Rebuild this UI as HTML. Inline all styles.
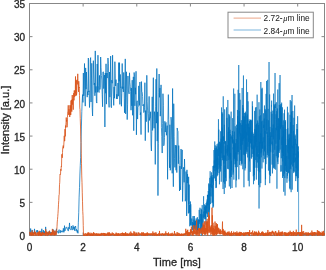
<!DOCTYPE html>
<html><head><meta charset="utf-8"><style>
html,body{margin:0;padding:0;background:#fff;width:326px;height:270px;overflow:hidden}
svg{display:block}
text{font-family:"Liberation Sans",sans-serif;fill:#262626;stroke:#262626;stroke-width:0.3px}
svg{will-change:transform}
.lg text{stroke-width:0.05px}
</style></head><body>
<svg width="326" height="270" viewBox="0 0 326 270">
<rect width="326" height="270" fill="#fff"/>
<g fill="none" stroke="#262626" stroke-width="1" opacity="0.55">
<rect x="29.5" y="3.5" width="295.0" height="232.0"/>
<path d="M29.50 235.5V232.5M29.50 3.5V6.5M83.14 235.5V232.5M83.14 3.5V6.5M136.77 235.5V232.5M136.77 3.5V6.5M190.41 235.5V232.5M190.41 3.5V6.5M244.05 235.5V232.5M244.05 3.5V6.5M297.68 235.5V232.5M297.68 3.5V6.5M29.5 235.50H32.5M324.5 235.50H321.5M29.5 202.36H32.5M324.5 202.36H321.5M29.5 169.21H32.5M324.5 169.21H321.5M29.5 136.07H32.5M324.5 136.07H321.5M29.5 102.93H32.5M324.5 102.93H321.5M29.5 69.79H32.5M324.5 69.79H321.5M29.5 36.64H32.5M324.5 36.64H321.5M29.5 3.50H32.5M324.5 3.50H321.5"/>
</g>
<g fill="none" stroke-linejoin="round">
<polyline points="29.50,233.12 29.88,232.81 30.27,234.60 30.65,228.53 31.04,233.06 31.42,233.08 31.81,232.53 32.19,229.95 32.58,233.00 32.96,234.21 33.35,232.70 33.73,232.38 34.12,233.20 34.50,228.89 34.88,232.64 35.27,232.97 35.65,234.10 36.04,232.13 36.42,231.68 36.81,230.26 37.19,232.97 37.58,230.26 37.96,231.73 38.35,231.90 38.73,232.66 39.12,231.77 39.50,232.54 39.88,234.39 40.27,231.17 40.65,231.08 41.04,232.24 41.42,233.06 41.81,228.79 42.19,234.64 42.58,233.14 42.96,232.72 43.35,230.06 43.73,233.55 44.12,231.61 44.50,233.85 44.88,231.19 45.27,233.53 45.65,226.88 46.04,232.14 46.42,234.47 46.81,231.91 47.19,233.83 47.58,232.83 47.96,234.05 48.35,234.55 48.73,231.79 49.12,232.96 49.50,230.69 49.88,233.76 50.27,232.46 50.65,233.63 51.04,232.11 51.42,233.38 51.81,232.32 52.19,232.37 52.58,232.01 52.96,229.11 53.35,232.12 53.73,232.92 54.12,234.03 54.50,231.13 54.88,231.32 55.27,231.77 55.65,233.88 56.04,233.84 56.42,228.79 56.81,232.51 57.19,231.38 57.58,231.52 57.96,232.18 58.35,233.34 58.73,230.33 59.12,229.63 59.50,231.62 59.88,232.86 60.27,232.93 60.65,230.28 61.04,232.31 61.42,231.05 61.81,231.60 62.19,230.69 62.58,231.46 62.96,232.34 63.35,228.30 63.73,231.94 64.12,232.26 64.50,225.66 64.88,231.00 65.27,229.21 65.65,229.15 66.04,227.20 66.42,227.30 66.81,226.91 67.19,229.18 67.58,228.89 67.96,230.53 68.35,231.08 68.73,227.28 69.12,228.79 69.50,222.91 69.88,229.16 70.27,229.25 70.65,229.77 71.04,229.64 71.42,225.98 71.81,228.52 72.19,230.14 72.58,228.27 72.96,225.42 73.35,226.15 73.73,229.43 74.12,227.03 74.50,230.60 74.88,226.64 75.27,227.25 75.65,226.09 76.04,231.09 76.42,229.22 76.81,230.12 77.19,232.41 77.58,230.51 77.96,233.31 78.35,222.20 78.73,212.72 79.12,197.13 79.50,187.63 79.88,175.00 80.27,165.42 80.65,157.68 81.04,142.45 81.42,126.05 81.81,111.67 82.19,100.92 82.58,94.58 82.96,102.40 83.35,73.02 83.73,95.92 84.12,88.55 84.50,63.50 84.88,96.46 85.27,106.15 85.65,67.91 86.04,89.12 86.42,72.06 86.81,86.44 87.19,97.16 87.58,91.49 87.96,95.01 88.35,58.00 88.73,92.05 89.12,90.82 89.50,107.52 89.88,98.60 90.27,60.09 90.65,57.60 91.04,102.03 91.42,80.17 91.81,63.32 92.19,107.81 92.58,116.00 92.96,94.68 93.35,60.70 93.73,73.04 94.12,84.72 94.50,83.09 94.88,95.78 95.27,50.90 95.65,92.50 96.04,86.42 96.42,101.38 96.81,103.07 97.19,63.96 97.58,92.27 97.96,55.20 98.35,85.18 98.73,91.43 99.12,92.50 99.50,75.41 99.88,89.51 100.27,87.38 100.65,57.00 101.04,67.77 101.42,75.36 101.81,79.98 102.19,94.33 102.58,106.76 102.96,71.94 103.35,71.84 103.73,88.60 104.12,78.52 104.50,75.08 104.88,127.00 105.27,73.02 105.65,93.24 106.04,63.82 106.42,104.13 106.81,73.00 107.19,78.10 107.58,72.37 107.96,58.00 108.35,63.25 108.73,100.17 109.12,107.37 109.50,72.03 109.88,97.13 110.27,83.28 110.65,56.10 111.04,106.10 111.42,107.72 111.81,80.14 112.19,83.26 112.58,55.20 112.96,83.65 113.35,96.21 113.73,105.38 114.12,86.95 114.50,98.21 114.88,61.70 115.27,78.09 115.65,85.97 116.04,79.65 116.42,98.77 116.81,94.30 117.19,98.96 117.58,97.48 117.96,82.97 118.35,96.16 118.73,62.60 119.12,81.30 119.50,62.70 119.88,104.38 120.27,74.41 120.65,87.58 121.04,86.81 121.42,106.24 121.81,93.26 122.19,63.50 122.58,88.66 122.96,86.68 123.35,91.96 123.73,72.48 124.12,88.76 124.50,112.75 124.88,98.47 125.27,58.90 125.65,113.94 126.04,97.42 126.42,71.79 126.81,90.15 127.19,119.60 127.58,104.85 127.96,75.96 128.35,90.11 128.73,92.05 129.12,93.88 129.50,72.80 129.88,82.30 130.27,86.29 130.65,91.53 131.04,110.19 131.42,87.98 131.81,105.81 132.19,80.15 132.58,115.27 132.96,98.99 133.35,76.80 133.73,130.70 134.12,72.47 134.50,76.68 134.88,105.83 135.27,87.78 135.65,94.21 136.04,71.30 136.42,134.80 136.81,102.46 137.19,100.80 137.58,119.09 137.96,107.28 138.35,106.43 138.73,85.87 139.12,99.58 139.50,105.39 139.88,82.01 140.27,114.88 140.65,112.56 141.04,134.58 141.42,81.57 141.81,91.41 142.19,92.29 142.58,96.49 142.96,105.94 143.35,104.39 143.73,112.51 144.12,111.95 144.50,107.76 144.88,82.69 145.27,140.70 145.65,110.62 146.04,120.20 146.42,121.60 146.81,75.30 147.19,101.82 147.58,110.09 147.96,118.00 148.35,132.42 148.73,113.60 149.12,96.42 149.50,120.41 149.88,117.68 150.27,117.84 150.65,111.72 151.04,145.02 151.42,151.00 151.81,131.39 152.19,96.83 152.58,130.43 152.96,103.15 153.35,77.70 153.73,121.92 154.12,128.26 154.50,111.67 154.88,115.99 155.27,164.40 155.65,106.75 156.04,79.23 156.42,123.16 156.81,68.50 157.19,141.12 157.58,111.89 157.96,195.60 158.35,143.81 158.73,92.18 159.12,74.00 159.50,97.30 159.88,88.00 160.27,116.16 160.65,110.25 161.04,84.86 161.42,127.45 161.81,136.40 162.19,153.05 162.58,123.70 162.96,93.71 163.35,105.27 163.73,145.77 164.12,144.33 164.50,137.40 164.88,121.30 165.27,132.05 165.65,123.77 166.04,122.48 166.42,135.28 166.81,130.32 167.19,125.61 167.58,179.30 167.96,120.25 168.35,94.60 168.73,119.22 169.12,130.86 169.50,167.81 169.88,124.73 170.27,170.29 170.65,163.90 171.04,117.13 171.42,121.02 171.81,139.76 172.19,173.29 172.58,88.50 172.96,153.18 173.35,186.70 173.73,103.71 174.12,136.68 174.50,158.37 174.88,167.35 175.27,145.09 175.65,148.89 176.04,170.28 176.42,145.45 176.81,172.57 177.19,127.98 177.58,130.43 177.96,131.45 178.35,163.76 178.73,145.57 179.12,159.57 179.50,191.00 179.88,166.13 180.27,185.85 180.65,189.87 181.04,148.99 181.42,168.98 181.81,162.85 182.19,149.89 182.58,201.46 182.96,185.47 183.35,169.56 183.73,167.18 184.12,182.32 184.50,159.01 184.88,174.89 185.27,201.24 185.64,198.10 185.99,171.57 186.33,179.20 186.65,215.92 186.96,169.84 187.26,183.04 187.56,174.18 187.84,200.47 188.11,200.79 188.38,213.40 188.64,176.84 188.89,204.11 189.14,184.66 189.38,212.66 189.62,204.96 189.85,226.29 190.08,213.82 190.30,201.49 190.52,224.88 190.74,204.26 190.95,212.62 191.16,225.53 191.36,221.27 191.56,221.38 191.76,218.55 191.96,222.90 192.15,225.54 192.34,222.05 192.53,227.70 192.71,229.85 192.90,221.70 193.08,216.09 193.26,232.16 193.44,222.88 193.61,227.30 193.78,229.57 193.95,219.56 194.12,227.37 194.29,216.03 194.46,228.77 194.62,222.17 194.78,225.58 194.94,228.52 195.10,220.90 195.26,225.06 195.42,220.73 195.57,224.38 195.72,230.24 195.88,224.61 196.03,223.70 196.18,218.49 196.33,229.09 196.47,224.11 196.62,233.70 196.76,220.08 196.91,229.97 197.05,234.11 197.19,224.04 197.33,217.31 197.47,232.41 197.61,229.87 197.75,227.85 197.89,230.05 198.02,221.27 198.16,228.03 198.29,227.40 198.42,219.42 198.56,227.37 198.69,219.91 198.82,228.48 198.95,229.90" stroke="#0072bd" stroke-width="0.75"/>
<polyline points="198.95,229.90 199.08,233.80 199.20,209.86 199.33,223.82 199.46,219.94 199.58,221.60 199.71,220.14 199.83,220.72 199.96,207.76 200.08,227.95 200.20,231.49 200.32,227.57 200.44,229.78 200.56,214.70 200.68,213.95 200.80,226.82 200.92,229.89 201.04,222.03 201.16,208.61 201.27,235.34 201.39,214.39 201.50,226.31 201.62,209.72 201.73,225.79 201.85,219.33 201.96,228.62 202.07,224.19 202.19,205.12 202.30,209.26 202.41,218.74 202.52,222.24 202.63,230.30 202.74,217.80 202.85,214.52 202.96,214.65 203.06,214.43 203.17,222.73 203.28,213.60 203.39,213.07 203.49,201.48 203.60,196.21 203.70,213.01 203.81,218.14 203.91,211.81 204.02,216.23 204.12,217.12 204.22,210.84 204.33,219.19 204.43,204.36 204.53,210.32 204.63,206.87 204.74,210.42 204.84,215.00 204.94,216.70 205.04,210.03 205.14,212.56 205.24,205.16 205.34,207.03 205.44,219.22 205.54,205.77 205.64,218.56 205.74,211.54 205.84,208.25 205.94,224.74 206.04,204.02 206.14,203.15 206.24,205.80 206.34,208.06 206.44,207.29 206.54,212.85 206.64,205.71 206.74,208.19 206.84,201.59 206.94,214.07 207.04,199.53 207.14,200.09 207.24,202.59 207.34,205.23 207.44,194.89 207.54,217.00 207.64,195.08 207.74,196.93 207.84,196.16 207.94,194.76 208.04,205.15 208.14,200.72 208.24,191.01 208.34,192.80 208.44,194.79 208.54,212.66 208.64,190.55 208.74,183.43 208.84,184.74 208.94,192.70 209.04,211.72 209.14,184.28 209.24,195.77 209.34,219.37 209.44,189.32 209.54,209.60 209.64,207.14 209.74,199.49 209.84,177.85 209.94,195.88 210.04,188.32 210.14,171.25 210.24,172.57 210.34,191.50 210.44,192.73 210.54,204.11 210.64,197.28 210.74,183.99 210.84,183.97 210.94,186.93 211.04,176.15 211.14,196.42 211.24,187.48 211.34,177.59 211.44,178.81 211.54,172.39 211.64,180.00 211.74,188.09 211.84,179.37 211.94,195.68 212.04,203.14 212.14,175.07 212.24,182.50 212.34,177.43 212.44,202.32 212.54,184.96 212.64,187.49 212.74,190.44 212.84,207.99 212.94,182.67 213.04,166.08 213.14,172.31 213.24,184.75 213.34,176.51 213.44,165.71 213.54,206.61 213.64,176.49 213.74,166.95 213.84,164.53 213.94,150.04 214.04,157.21 214.14,167.99 214.24,167.62 214.34,160.33 214.44,178.37 214.54,170.88 214.64,156.98 214.74,141.47 214.84,171.09 214.94,169.01 215.04,165.02 215.14,148.10 215.24,167.73 215.34,145.43 215.44,180.95 215.54,169.15 215.64,169.04 215.74,153.99 215.84,149.73 215.94,188.07 216.04,178.83 216.14,159.43 216.24,174.43 216.34,187.56 216.44,147.52 216.54,155.66 216.64,155.33 216.74,170.30 216.84,146.14 216.94,166.02 217.04,144.29 217.14,176.29 217.24,175.14 217.34,157.65 217.44,172.19 217.54,149.27 217.64,155.79 217.74,175.12 217.84,158.27 217.94,165.08 218.04,143.45 218.14,169.30 218.24,165.76 218.34,137.27 218.44,119.22 218.54,122.87 218.64,155.99 218.74,152.97 218.84,129.64 218.94,158.38 219.04,173.14 219.14,153.51 219.24,147.24 219.34,169.84 219.44,184.31 219.54,180.36 219.64,142.01 219.74,167.62 219.84,156.08 219.94,149.28 220.04,141.53 220.14,159.05 220.24,143.53 220.34,169.17 220.44,159.28 220.54,171.51 220.64,131.29 220.74,152.77 220.84,165.97 220.94,158.65 221.04,156.12 221.14,138.72 221.24,181.74 221.34,171.17 221.44,158.69 221.54,107.44 221.64,133.31 221.74,153.37 221.84,137.67 221.94,112.03 222.04,155.40 222.14,157.83 222.24,127.67 222.34,141.23 222.44,137.73 222.54,160.19 222.64,113.49 222.74,117.46 222.84,139.29 222.94,136.89 223.04,189.03 223.14,137.56 223.24,96.30 223.34,141.27 223.44,136.34 223.54,156.09 223.64,182.21 223.74,142.10 223.84,163.61 223.94,155.51 224.04,160.77 224.14,155.55 224.24,194.02 224.34,124.78 224.44,143.58 224.54,126.60 224.64,109.36 224.74,147.82 224.84,183.77 224.94,165.75 225.04,171.89 225.14,157.88 225.24,146.30 225.34,187.63 225.44,140.97 225.54,177.82 225.64,141.75 225.74,149.82 225.84,153.85 225.94,148.99 226.04,158.29 226.14,159.71 226.24,181.17 226.34,147.93 226.44,110.14 226.54,107.33 226.64,120.52 226.74,132.88 226.84,160.76 226.94,117.84 227.04,148.12 227.14,148.33 227.24,152.79 227.34,144.96 227.44,155.64 227.54,148.44 227.64,168.80 227.74,154.26 227.84,99.97 227.94,147.96 228.04,151.37 228.14,135.51 228.24,131.84 228.34,169.22 228.44,150.54 228.54,127.32 228.64,140.62 228.74,143.61 228.84,113.97 228.94,160.05 229.04,144.27 229.14,156.71 229.24,114.95 229.34,186.38 229.44,159.72 229.54,156.75 229.64,131.85 229.74,132.98 229.84,116.44 229.94,178.45 230.04,129.78 230.14,151.57 230.24,159.32 230.34,134.03 230.44,164.55 230.54,188.74 230.64,152.94 230.74,176.52 230.84,158.68 230.94,137.24 231.04,138.44 231.14,111.64 231.24,149.07 231.34,177.01 231.44,160.65 231.54,164.03 231.64,170.25 231.74,135.49 231.84,158.14 231.94,186.08 232.04,188.00 232.14,146.77 232.24,136.88 232.34,142.11 232.44,130.99 232.54,143.43 232.64,118.17 232.74,135.19 232.84,135.83 232.94,135.40 233.04,174.66 233.14,147.40 233.24,149.35 233.34,139.46 233.44,172.42 233.54,109.28 233.64,88.50 233.74,169.18 233.84,179.63 233.94,149.47 234.04,145.37 234.14,158.60 234.24,141.44 234.34,156.87 234.44,131.63 234.54,158.54 234.64,143.99 234.74,122.44 234.84,93.75 234.94,164.34 235.04,152.81 235.14,160.71 235.24,126.22 235.34,167.18 235.44,153.04 235.54,143.31 235.64,163.49 235.74,163.00 235.84,152.66 235.94,187.39 236.04,173.35 236.14,151.18 236.24,139.07 236.34,146.19 236.44,180.35 236.54,152.08 236.64,124.78 236.74,129.94 236.84,143.60 236.94,161.07 237.04,128.08 237.14,154.30 237.24,167.09 237.34,159.07 237.44,109.95 237.54,136.67 237.64,116.07 237.74,151.85 237.84,120.74 237.94,154.44 238.04,144.64 238.14,89.79 238.24,124.16 238.34,152.05 238.44,142.81 238.54,133.67 238.64,114.03 238.74,65.00 238.84,179.33 238.94,146.85 239.04,140.24 239.14,138.08 239.24,111.10 239.34,133.33 239.44,122.17 239.54,164.92 239.64,120.77 239.74,93.14 239.84,122.74 239.94,134.34 240.04,136.53 240.14,99.79 240.24,160.83 240.34,142.46 240.44,129.61 240.54,123.22 240.64,149.76 240.74,133.02 240.84,146.16 240.94,137.20 241.04,142.86 241.14,165.51 241.24,140.35 241.34,120.18 241.44,161.55 241.54,145.25 241.64,124.93 241.74,163.81 241.84,135.72 241.94,163.57 242.04,114.37 242.14,87.97 242.24,94.48 242.34,144.67 242.44,123.18 242.54,137.04 242.64,137.45 242.74,105.09 242.84,169.23 242.94,116.10 243.04,140.79 243.14,108.19 243.24,135.49 243.34,154.70 243.44,75.50 243.54,123.20 243.64,138.84 243.74,128.73 243.84,151.26 243.94,187.24 244.04,119.51 244.14,123.99 244.24,136.27 244.34,138.04 244.44,116.45 244.54,149.74 244.64,155.29 244.74,143.73 244.84,113.02 244.94,170.41 245.04,112.98 245.14,153.73 245.24,163.95 245.34,111.69 245.44,141.73 245.54,168.26 245.64,147.52 245.74,119.22 245.84,113.56 245.94,149.02 246.04,130.85 246.14,124.19 246.24,153.75 246.34,132.07 246.44,140.48 246.54,79.40 246.64,150.43 246.74,138.41 246.84,139.23 246.94,151.99 247.04,149.00 247.14,116.20 247.24,135.40 247.34,121.18 247.44,114.54 247.54,127.56 247.64,92.14 247.74,157.41 247.84,123.09 247.94,146.75 248.04,101.31 248.14,104.65 248.24,180.83 248.34,160.29 248.44,126.42 248.54,123.87 248.64,125.03 248.74,141.71 248.84,130.92 248.94,126.90 249.04,141.90 249.14,119.36 249.24,186.37 249.34,127.49 249.44,161.36 249.54,121.01 249.64,145.04 249.74,158.35 249.84,132.95 249.94,158.76 250.04,158.78 250.14,171.87 250.24,141.08 250.34,130.65 250.44,120.18 250.54,143.43 250.64,119.76 250.74,140.29 250.84,142.52 250.94,129.30 251.04,119.71 251.14,147.49 251.24,145.57 251.34,143.95 251.44,139.15 251.54,158.59 251.64,120.54 251.74,148.74 251.84,131.76 251.94,157.13 252.04,133.85 252.14,133.24 252.24,149.20 252.34,101.35 252.44,133.72 252.54,106.24 252.64,122.28 252.74,153.98 252.84,148.53 252.94,132.59 253.04,139.92 253.14,140.16 253.24,146.71 253.34,176.30 253.44,145.56 253.54,184.21 253.64,134.03 253.74,155.30 253.84,155.10 253.94,145.52 254.04,136.05 254.14,168.94 254.24,175.03 254.34,161.88 254.44,180.64 254.54,159.98 254.64,110.90 254.74,161.70 254.84,128.99 254.94,167.74 255.04,135.76 255.14,147.57 255.24,142.55 255.34,130.44 255.44,107.53 255.54,137.53 255.64,138.85 255.74,160.01 255.84,129.88 255.94,145.89 256.04,124.94 256.14,141.89 256.24,107.13 256.34,179.60 256.44,146.71 256.54,123.66 256.64,147.71 256.74,156.33 256.84,145.98 256.94,167.84 257.04,138.34 257.14,94.67 257.24,118.01 257.34,162.47 257.44,157.80 257.54,148.50 257.64,120.52 257.74,156.72 257.84,154.09 257.94,122.70 258.04,123.04 258.14,147.71 258.24,162.56 258.34,171.20 258.44,154.14 258.54,184.87 258.64,124.97 258.74,152.69 258.84,130.26 258.94,102.21 259.04,208.50 259.14,163.15 259.24,122.19 259.34,116.27 259.44,154.89 259.54,159.08 259.64,141.88 259.74,172.28 259.84,109.52 259.94,187.26 260.04,162.14 260.14,144.90 260.24,143.93 260.34,135.74 260.44,133.46 260.54,143.38 260.64,115.32 260.74,183.13 260.84,82.00 260.94,153.43 261.04,135.70 261.14,133.75 261.24,157.34 261.34,151.59 261.44,121.42 261.54,130.62 261.64,152.19 261.74,94.72 261.84,88.85 261.94,168.53 262.04,131.06 262.14,87.79 262.24,120.58 262.34,132.45 262.44,141.51 262.54,148.54 262.64,141.42 262.74,148.58 262.84,120.65 262.94,145.14 263.04,145.98 263.14,162.33 263.24,137.34 263.34,155.54 263.44,139.99 263.54,113.30 263.64,127.89 263.74,124.75 263.84,127.88 263.94,134.27 264.04,138.25 264.14,142.12 264.24,118.56 264.34,159.06 264.44,105.47 264.54,134.21 264.64,151.44 264.74,145.61 264.84,149.70 264.94,131.00 265.04,150.48 265.14,108.95 265.24,151.83 265.34,185.12 265.44,150.64 265.54,179.21 265.64,135.08 265.74,110.36 265.84,119.53 265.94,164.11 266.04,151.14 266.14,93.86 266.24,126.70 266.34,133.74 266.44,109.92 266.54,80.95 266.64,104.32 266.74,130.47 266.84,125.53 266.94,119.52 267.04,147.41 267.14,157.52 267.24,132.19 267.34,154.93 267.44,134.68 267.54,131.04 267.64,79.82 267.74,152.61 267.84,135.87 267.94,136.80 268.04,122.94 268.14,108.88 268.24,144.16 268.34,151.74 268.44,170.60 268.54,154.10 268.64,120.29 268.74,131.58 268.84,156.08 268.94,141.16 269.04,62.00 269.14,120.74 269.24,146.16 269.34,138.15 269.44,174.60 269.54,159.05 269.64,94.46 269.74,183.20 269.84,139.97 269.94,126.91 270.04,140.78 270.14,150.96 270.24,133.55 270.34,132.28 270.44,134.14 270.54,176.07 270.64,135.76 270.74,152.29 270.84,145.17 270.94,127.19 271.04,117.62 271.14,111.72 271.24,144.15 271.34,111.21 271.44,105.48 271.54,106.41 271.64,100.61 271.74,136.24 271.84,136.95 271.94,113.88 272.04,164.62 272.14,128.23 272.24,145.37 272.34,141.68 272.44,173.40 272.54,153.80 272.64,133.79 272.74,112.91 272.84,110.63 272.94,135.32 273.04,137.87 273.14,152.65 273.24,124.38 273.34,139.35 273.44,119.82 273.54,93.62 273.64,134.56 273.74,168.15 273.84,153.62 273.94,167.31 274.04,161.38 274.14,104.25 274.24,128.94 274.34,168.85 274.44,119.32 274.54,105.55 274.64,142.51 274.74,149.75 274.84,142.09 274.94,128.00 275.04,73.00 275.14,107.70 275.24,107.05 275.34,107.71 275.44,103.74 275.54,119.72 275.64,169.65 275.74,137.85 275.84,127.77 275.94,143.69 276.04,114.27 276.14,143.27 276.24,156.21 276.34,102.26 276.44,120.04 276.54,130.27 276.64,114.19 276.74,111.14 276.84,127.64 276.94,188.70 277.04,150.93 277.14,145.99 277.24,158.08 277.34,131.13 277.44,108.50 277.54,146.84 277.64,161.74 277.74,89.53 277.84,146.24 277.94,164.15 278.04,130.59 278.14,126.33 278.24,152.24 278.34,118.09 278.44,147.37 278.54,157.39 278.64,132.23 278.74,118.72 278.84,150.93 278.94,128.90 279.04,138.66 279.14,83.11 279.24,152.86 279.34,104.94 279.44,137.92 279.54,139.68 279.64,120.27 279.74,116.36 279.84,107.85 279.94,129.43 280.04,75.00 280.14,149.55 280.24,125.84 280.34,124.44 280.44,106.16 280.54,128.57 280.64,114.34 280.74,104.35 280.84,134.90 280.94,171.93 281.04,165.21 281.14,171.05 281.24,104.15 281.34,158.22 281.44,112.66 281.54,127.09 281.64,102.64 281.74,118.46 281.84,142.71 281.94,145.01 282.04,139.03 282.14,137.29 282.24,152.63 282.34,142.14 282.44,107.35 282.54,177.97 282.64,136.54 282.74,161.34 282.84,138.46 282.94,124.97 283.04,143.98 283.14,126.86 283.24,176.16 283.34,120.43 283.44,155.97 283.54,130.92 283.64,140.17 283.74,191.76 283.84,159.68 283.94,140.01 284.04,113.24 284.14,139.07 284.24,139.87 284.34,173.53 284.44,116.87 284.54,109.68 284.64,145.24 284.74,150.34 284.84,178.06 284.94,129.05 285.04,195.60 285.14,132.44 285.24,121.73 285.34,135.85 285.44,165.76 285.54,120.25 285.64,170.64 285.74,150.56 285.84,140.95 285.94,129.09 286.04,138.23 286.14,138.79 286.24,161.32 286.34,171.68 286.44,145.15 286.54,160.30 286.64,172.03 286.74,171.21 286.84,155.95 286.94,182.73 287.04,172.80 287.14,178.45 287.24,142.69 287.34,138.24 287.44,106.75 287.54,175.73 287.64,159.62 287.74,128.25 287.84,150.49 287.94,152.65 288.04,112.51 288.14,152.86 288.24,168.98 288.34,172.14 288.44,139.53 288.54,140.12 288.64,173.21 288.74,165.58 288.84,135.56 288.94,134.70 289.04,158.80 289.14,133.79 289.24,134.77 289.34,181.32 289.44,152.23 289.54,137.84 289.64,157.37 289.74,188.35 289.84,151.62 289.94,131.12 290.04,114.75 290.14,189.38 290.24,100.09 290.34,168.42 290.44,127.43 290.54,122.06 290.64,127.09 290.74,143.51 290.84,169.24 290.94,134.32 291.04,160.58 291.14,192.17 291.24,101.32 291.34,133.04 291.44,111.57 291.54,164.59 291.64,118.57 291.74,116.31 291.84,117.09 291.94,147.57 292.04,95.00 292.14,150.69 292.24,189.63 292.34,180.03 292.44,145.70 292.54,166.47 292.64,150.72 292.74,149.72 292.84,110.95 292.94,123.10 293.04,148.67 293.14,124.97 293.24,162.70 293.34,154.37 293.44,130.88 293.54,171.52 293.64,153.43 293.74,173.06 293.84,146.10 293.94,117.77 294.04,162.49 294.14,144.26 294.24,165.28 294.34,170.02 294.44,171.65 294.54,121.70 294.64,105.50 294.74,139.90 294.84,162.15 294.94,135.95 295.04,155.23 295.14,134.59 295.24,144.17 295.34,144.60 295.44,138.91 295.54,160.49 295.64,157.50 295.74,181.09 295.84,158.49 295.94,175.92 296.04,153.61 296.14,167.96 296.24,149.72 296.34,143.86 296.44,176.24 296.54,165.95 296.64,168.29 296.74,139.87 296.84,124.01 296.94,138.65 297.04,158.88 297.14,129.06 297.24,178.36 297.34,129.17 297.44,164.54 297.54,191.80 297.64,116.20 297.74,128.44 297.84,170.72 297.94,151.26 298.04,157.47 298.14,152.34 298.24,178.03 298.34,165.04 298.44,146.42 298.54,150.39 298.64,234.27 298.74,234.34 298.84,233.64 298.94,234.48 299.04,234.42 299.14,234.28 299.24,234.03 299.34,234.11 299.44,234.49 299.54,234.41 299.64,233.89 299.74,233.67 299.84,234.21 299.94,234.16 300.04,234.30 300.14,234.37 300.24,234.35 300.34,234.50 300.44,233.98 300.54,234.30 300.64,234.39 300.74,234.09 300.84,234.21 300.94,234.35 301.04,234.40 301.14,233.92 301.24,234.34 301.34,234.48 301.44,234.22 301.54,234.39 301.64,234.16 301.74,234.47 301.84,234.42 301.94,233.83 302.04,234.50 302.14,234.29 302.24,234.45 302.34,234.19 302.44,234.08 302.54,234.28 302.64,234.10 302.74,234.15 302.84,234.50 302.94,234.18 303.04,234.12 303.14,234.44 303.24,234.11 303.34,234.29 303.44,234.21 303.54,234.45 303.64,233.92 303.74,234.47 303.84,234.29 303.94,234.46 304.04,234.35 304.14,234.20 304.24,234.02 304.34,234.29 304.44,234.12 304.54,234.16 304.64,234.35 304.74,234.11 304.84,234.40 304.94,234.00 305.04,234.35 305.14,234.36 305.24,234.24 305.34,234.25 305.44,234.20 305.54,234.02 305.64,234.42 305.74,234.49 305.84,234.48 305.94,234.37 306.04,234.03 306.14,234.37 306.24,234.27 306.34,234.09 306.44,234.03 306.54,234.39 306.64,233.93 306.74,234.31 306.84,234.30 306.94,234.50 307.04,233.99 307.14,234.05 307.24,234.28 307.34,234.30 307.44,234.07 307.54,234.48 307.64,234.16 307.74,234.29 307.84,234.04 307.94,234.14 308.04,234.30 308.14,234.17 308.24,234.11 308.34,234.06 308.44,234.42 308.54,234.16 308.64,234.47 308.74,234.28 308.84,234.02 308.94,234.40 309.04,234.34 309.14,234.37 309.24,233.84 309.34,234.25 309.44,234.14 309.54,234.38 309.64,234.47 309.74,234.24 309.84,234.38 309.94,233.99 310.04,234.19 310.14,234.20 310.24,234.43 310.34,234.27 310.44,234.36 310.54,234.33 310.64,233.93 310.74,233.92 310.84,234.50 310.94,234.49 311.04,234.48 311.14,234.44 311.24,234.39 311.34,234.17 311.44,234.35 311.54,234.46 311.64,234.51 311.74,234.47 311.84,234.45 311.94,234.17 312.04,234.50 312.14,234.45 312.24,234.49 312.34,234.17 312.44,234.23 312.54,234.16 312.64,234.44 312.74,234.27 312.84,234.15 312.94,234.43 313.04,234.33 313.14,233.92 313.24,233.95 313.34,234.50 313.44,234.47 313.54,234.15 313.64,234.48 313.74,234.31 313.84,233.78 313.94,234.15 314.04,234.47 314.14,234.22 314.24,234.15 314.34,234.47 314.44,234.38 314.54,233.71 314.64,234.21 314.74,234.49 314.84,234.29 314.94,234.48 315.04,234.11 315.14,234.37 315.24,234.47 315.34,234.36 315.44,234.13 315.54,234.17 315.64,234.37 315.74,234.40 315.84,234.14 315.94,234.46 316.04,234.43 316.14,234.37 316.24,234.47 316.34,234.23 316.44,234.00 316.54,233.79 316.64,234.38 316.74,234.37 316.84,234.43 316.94,234.09 317.04,234.36 317.14,234.48 317.24,234.43 317.34,234.46 317.44,234.17 317.54,234.28 317.64,234.27 317.74,234.33 317.84,234.46 317.94,234.14 318.04,234.50 318.14,234.17 318.24,234.20 318.34,234.30 318.44,234.43 318.54,234.44 318.64,234.48 318.74,234.20 318.84,233.84 318.94,234.40 319.04,234.01 319.14,234.11 319.24,233.85 319.34,234.17 319.44,233.95 319.54,233.96 319.64,234.08 319.74,234.47 319.84,234.33 319.94,233.91 320.04,234.39 320.14,234.29 320.24,234.44 320.34,234.19 320.44,234.39 320.54,234.50 320.64,234.38 320.74,234.39 320.84,233.88 320.94,234.39 321.04,234.44 321.14,234.30 321.24,234.26 321.34,234.02 321.44,234.14 321.54,234.20 321.64,234.47 321.74,234.36 321.84,233.86 321.94,233.72 322.04,234.39 322.14,234.27 322.24,234.13 322.34,234.29 322.44,234.36 322.54,233.97 322.64,234.20 322.74,233.98 322.84,234.18 322.94,234.00 323.04,234.39 323.14,233.77 323.24,234.02 323.34,234.44 323.44,234.13 323.54,234.49 323.64,234.38 323.74,234.36 323.84,234.02 323.94,234.03 324.04,233.80 324.14,234.20 324.24,233.92 324.34,234.38 324.44,234.05 324.50,234.50" stroke="#0072bd" stroke-width="0.62"/>
<polyline points="29.50,232.50 29.62,232.04 29.75,233.14 29.88,234.65 30.00,235.26 30.12,234.57 30.25,234.13 30.38,232.06 30.50,233.86 30.62,233.21 30.75,232.98 30.88,235.34 31.00,234.97 31.12,233.74 31.25,235.67 31.38,235.30 31.50,232.90 31.62,233.22 31.75,234.38 31.88,235.43 32.00,230.51 32.12,233.82 32.25,234.64 32.38,233.04 32.50,233.24 32.62,231.94 32.75,235.49 32.88,232.80 33.00,234.07 33.12,234.91 33.25,233.92 33.38,235.82 33.50,235.40 33.62,234.57 33.75,233.14 33.88,232.83 34.00,234.36 34.12,233.70 34.25,232.72 34.38,234.36 34.50,234.16 34.62,230.65 34.75,233.73 34.88,231.98 35.00,233.47 35.12,235.71 35.25,234.26 35.38,232.49 35.50,233.31 35.62,232.36 35.75,234.66 35.88,234.01 36.00,234.96 36.12,235.16 36.25,235.54 36.38,235.11 36.50,235.25 36.62,234.01 36.75,234.26 36.88,232.86 37.00,232.80 37.12,233.75 37.25,233.29 37.38,234.03 37.50,234.66 37.62,233.90 37.75,233.32 37.88,232.03 38.00,232.65 38.12,235.63 38.25,233.14 38.38,235.54 38.50,233.42 38.62,231.86 38.75,231.93 38.88,235.42 39.00,234.21 39.12,235.12 39.25,233.27 39.38,230.85 39.50,232.97 39.62,234.16 39.75,233.52 39.88,235.07 40.00,232.09 40.12,232.06 40.25,235.78 40.38,233.66 40.50,233.04 40.62,234.63 40.75,235.77 40.88,235.89 41.00,233.09 41.12,235.85 41.25,234.36 41.38,232.72 41.50,235.69 41.62,233.09 41.75,234.18 41.88,234.35 42.00,233.95 42.12,234.37 42.25,232.02 42.38,231.99 42.50,233.21 42.62,235.42 42.75,231.86 42.88,231.92 43.00,232.35 43.12,234.42 43.25,234.48 43.38,234.03 43.50,234.28 43.62,233.07 43.75,235.12 43.88,233.77 44.00,233.03 44.12,233.05 44.25,233.23 44.38,233.22 44.50,234.66 44.62,235.03 44.75,234.56 44.88,234.69 45.00,232.65 45.12,234.31 45.25,234.19 45.38,235.86 45.50,232.46 45.62,232.09 45.75,229.21 45.88,234.18 46.00,234.11 46.12,231.36 46.25,233.51 46.38,232.71 46.50,233.00 46.62,232.00 46.75,233.29 46.88,235.47 47.00,233.62 47.12,231.83 47.25,235.38 47.38,235.69 47.50,235.70 47.62,235.62 47.75,235.25 47.88,232.66 48.00,233.51 48.12,232.99 48.25,233.68 48.38,234.49 48.50,232.77 48.62,235.22 48.75,234.47 48.88,233.80 49.00,233.19 49.12,231.34 49.25,233.64 49.38,233.48 49.50,234.78 49.62,230.93 49.75,232.54 49.88,234.04 50.00,232.91 50.12,233.88 50.25,233.81 50.38,233.48 50.50,235.34 50.62,233.45 50.75,235.20 50.88,233.77 51.00,233.24 51.12,233.08 51.25,235.07 51.38,234.57 51.50,235.32 51.62,232.23 51.75,234.23 51.88,234.81 52.00,235.00 52.12,232.12 52.25,233.21 52.38,228.90 52.50,234.62 52.62,234.64 52.75,231.17 52.88,232.27 53.00,235.25 53.12,232.47 53.25,233.56 53.38,232.30 53.50,232.13 53.62,232.23 53.75,229.99 53.88,235.18 54.00,234.13 54.12,234.13 54.25,234.92 54.38,233.97 54.50,232.74 54.62,235.47 54.75,233.98 54.88,231.32 55.00,235.12 55.12,233.34 55.25,234.89 55.38,233.63 55.50,233.62 55.62,232.35 55.75,232.18 55.88,230.53 56.00,233.90 56.12,234.06 56.25,234.94 56.38,232.79 56.50,232.90 56.75,230.35 57.00,226.75 57.25,221.98 57.50,219.53 57.75,216.48 58.00,213.36 58.25,209.21 58.50,204.20 58.75,200.52 59.00,194.90 59.25,194.51 59.50,184.78 59.75,182.26 60.00,174.19 60.25,174.77 60.50,174.53 60.75,169.21 61.00,170.67 61.25,166.28 61.50,166.90 61.75,154.77 62.00,154.19 62.25,157.79 62.50,152.51 62.75,147.30 63.00,146.94 63.25,145.47 63.50,148.22 63.75,145.65 64.00,141.00 64.25,135.82 64.50,141.16 64.75,140.64 65.00,129.15 65.25,136.35 65.50,125.62 65.75,127.51 66.00,122.70 66.25,117.53 66.50,121.44 66.75,119.93 67.00,127.27 67.25,125.20 67.50,117.35 67.75,111.63 68.00,111.23 68.25,105.31 68.50,114.92 68.75,114.48 69.00,109.19 69.25,113.41 69.50,112.82 69.75,117.02 70.00,105.18 70.25,115.10 70.50,105.68 70.75,114.90 71.00,100.54 71.25,110.79 71.50,99.84 71.75,111.72 72.00,104.60 72.25,95.04 72.50,104.59 72.75,98.99 73.00,100.91 73.25,109.65 73.50,94.79 73.75,93.16 74.00,100.35 74.25,90.46 74.50,96.75 74.75,96.88 75.00,90.55 75.25,93.23 75.50,76.48 75.75,95.91 76.00,82.78 76.25,80.48 76.50,95.24 76.75,92.96 77.00,79.82 77.25,84.38 77.50,78.82 77.75,73.84 78.00,80.88 78.25,83.14 78.50,91.87 78.75,81.22 79.00,87.83 79.25,87.00 79.50,95.65 79.75,107.91 80.00,109.44 80.25,118.71 80.50,126.02 80.75,136.89 81.00,142.18 81.25,153.23 81.50,163.74 81.75,175.92 82.00,182.44 82.25,192.17 82.50,201.22 82.75,211.32 83.00,215.48 83.25,225.40 83.50,235.90 83.75,235.12 84.00,233.35 84.25,233.71 84.50,235.66 84.75,234.36 84.88,234.60 85.00,235.39 85.12,235.24 85.25,235.77 85.38,234.26 85.50,233.48 85.62,234.23 85.75,233.65 85.88,234.53 86.00,235.08 86.12,235.56 86.25,234.34 86.38,234.29 86.50,234.03 86.62,235.57 86.75,235.79 86.88,233.80 87.00,234.45 87.12,235.45 87.25,233.24 87.38,235.76 87.50,234.39 87.62,234.57 87.75,234.19 87.88,235.67 88.00,232.76 88.12,233.48 88.25,232.31 88.38,234.07 88.50,235.15 88.62,233.56 88.75,233.19 88.88,233.80 89.00,234.02 89.12,234.85 89.25,233.46 89.38,234.35 89.50,235.37 89.62,235.00 89.75,235.56 89.88,234.86 90.00,232.68 90.12,233.72 90.25,234.95 90.38,233.98 90.50,235.70 90.62,235.61 90.75,233.75 90.88,235.59 91.00,234.44 91.12,233.95 91.25,234.55 91.38,235.71 91.50,234.14 91.62,234.05 91.75,232.86 91.88,234.34 92.00,234.23 92.12,234.48 92.25,235.12 92.38,234.45 92.50,235.87 92.62,234.91 92.75,233.50 92.88,235.41 93.00,234.00 93.12,234.14 93.25,235.47 93.38,233.46 93.50,235.32 93.62,232.10 93.75,233.50 93.88,234.44 94.00,233.63 94.12,233.85 94.25,233.02 94.38,234.44 94.50,234.08 94.62,233.99 94.75,235.75 94.88,234.98 95.00,233.70 95.12,234.64 95.25,234.32 95.38,234.36 95.50,234.81 95.62,233.67 95.75,234.73 95.88,235.84 96.00,235.51 96.12,235.48 96.25,233.63 96.38,234.82 96.50,235.07 96.62,233.57 96.75,235.41 96.88,234.41 97.00,233.35 97.12,233.73 97.25,235.52 97.38,234.77 97.50,235.30 97.62,234.18 97.75,235.31 97.88,234.97 98.00,235.25 98.12,235.17 98.25,233.39 98.38,235.23 98.50,233.99 98.62,235.24 98.75,234.99 98.88,235.17 99.00,235.05 99.12,234.21 99.25,235.48 99.38,234.26 99.50,235.07 99.62,235.67 99.75,233.97 99.88,233.49 100.00,235.26 100.12,235.24 100.25,233.84 100.38,235.71 100.50,235.39 100.62,235.08 100.75,233.90 100.88,234.83 101.00,233.64 101.12,235.61 101.25,234.55 101.38,234.05 101.50,234.56 101.62,232.93 101.75,234.51 101.88,235.29 102.00,233.53 102.12,233.51 102.25,234.37 102.38,234.51 102.50,233.60 102.62,235.12 102.75,235.20 102.88,233.75 103.00,234.68 103.12,234.11 103.25,234.41 103.38,232.95 103.50,233.90 103.62,234.22 103.75,233.38 103.88,233.90 104.00,235.80 104.12,233.85 104.25,235.72 104.38,234.02 104.50,233.03 104.62,235.64 104.75,234.10 104.88,234.51 105.00,235.61 105.12,233.81 105.25,234.49 105.38,233.58 105.50,233.64 105.62,234.72 105.75,235.48 105.88,233.77 106.00,235.51 106.12,233.95 106.25,235.40 106.38,233.69 106.50,234.92 106.62,234.42 106.75,234.03 106.88,234.33 107.00,234.66 107.12,234.35 107.25,235.11 107.38,233.09 107.50,233.93 107.62,235.40 107.75,235.10 107.88,234.96 108.00,232.28 108.12,234.66 108.25,235.15 108.38,233.17 108.50,235.43 108.62,234.21 108.75,233.92 108.88,235.65 109.00,234.54 109.12,232.65 109.25,233.46 109.38,232.47 109.50,234.80 109.62,233.66 109.75,235.59 109.88,233.64 110.00,235.03 110.12,235.08 110.25,233.52 110.38,234.97 110.50,235.31 110.62,235.40 110.75,233.94 110.88,234.15 111.00,235.33 111.12,234.72 111.25,235.21 111.38,233.90 111.50,235.04 111.62,234.00 111.75,233.72 111.88,233.64 112.00,233.63 112.12,234.74 112.25,232.49 112.38,235.18 112.50,234.24 112.62,234.17 112.75,234.48 112.88,233.84 113.00,233.73 113.12,234.33 113.25,233.72 113.38,234.54 113.50,233.41 113.62,234.47 113.75,235.31 113.88,235.21 114.00,235.68 114.12,234.35 114.25,233.86 114.38,234.32 114.50,233.96 114.62,235.10 114.75,235.82 114.88,234.82 115.00,235.02 115.12,235.17 115.25,235.16 115.38,235.47 115.50,234.26 115.62,234.47 115.75,233.93 115.88,233.55 116.00,235.33 116.12,232.60 116.25,234.07 116.38,234.55 116.50,233.58 116.62,234.67 116.75,235.83 116.88,235.31 117.00,235.15 117.12,234.24 117.25,234.55 117.38,233.53 117.50,235.85 117.62,235.31 117.75,234.57 117.88,233.65 118.00,234.87 118.12,235.38 118.25,234.89 118.38,233.25 118.50,234.19 118.62,235.31 118.75,233.63 118.88,235.79 119.00,234.29 119.12,234.85 119.25,233.98 119.38,234.10 119.50,234.29 119.62,233.63 119.75,234.88 119.88,235.39 120.00,234.92 120.12,234.55 120.25,235.58 120.38,235.16 120.50,234.17 120.62,233.54 120.75,233.68 120.88,235.00 121.00,234.08 121.12,233.92 121.25,233.10 121.38,234.23 121.50,233.63 121.62,234.23 121.75,235.55 121.88,234.82 122.00,235.89 122.12,234.93 122.25,234.65 122.38,232.70 122.50,234.68 122.62,232.84 122.75,233.48 122.88,234.65 123.00,234.43 123.12,234.26 123.25,233.17 123.38,234.60 123.50,233.50 123.62,235.63 123.75,233.84 123.88,234.12 124.00,235.87 124.12,233.24 124.25,235.03 124.38,233.93 124.50,233.76 124.62,233.50 124.75,234.74 124.88,234.38 125.00,235.20 125.12,235.73 125.25,232.93 125.38,233.54 125.50,235.71 125.62,232.11 125.75,234.68 125.88,234.34 126.00,235.26 126.12,234.25 126.25,234.86 126.38,233.51 126.50,235.19 126.62,235.10 126.75,234.32 126.88,235.65 127.00,233.57 127.12,234.41 127.25,233.58 127.38,235.47 127.50,234.21 127.62,234.52 127.75,235.70 127.88,234.84 128.00,233.38 128.12,234.26 128.25,234.78 128.38,235.43 128.50,234.27 128.62,235.26 128.75,235.21 128.88,234.03 129.00,234.27 129.12,234.16 129.25,233.70 129.38,233.86 129.50,235.37 129.62,233.57 129.75,232.69 129.88,234.32 130.00,234.58 130.12,234.97 130.25,234.09 130.38,235.82 130.50,234.18 130.62,235.07 130.75,231.54 130.88,231.87 131.00,234.42 131.12,235.72 131.25,234.55 131.38,235.05 131.50,232.91 131.62,234.15 131.75,234.70 131.88,234.15 132.00,235.56 132.12,233.68 132.25,233.58 132.38,233.52 132.50,233.96 132.62,234.50 132.75,233.67 132.88,233.62 133.00,235.38 133.12,234.60 133.25,233.87 133.38,234.28 133.50,233.91 133.62,234.94 133.75,233.25 133.88,231.31 134.00,234.70 134.12,233.31 134.25,235.46 134.38,235.03 134.50,235.49 134.62,234.30 134.75,231.91 134.88,233.68 135.00,235.71 135.12,234.06 135.25,234.56 135.38,235.08 135.50,233.76 135.62,234.64 135.75,235.80 135.88,234.21 136.00,234.27 136.12,232.66 136.25,234.44 136.38,234.49 136.50,235.69 136.62,233.26 136.75,235.87 136.88,233.58 137.00,234.55 137.12,233.91 137.25,234.30 137.38,234.69 137.50,234.85 137.62,235.00 137.75,235.06 137.88,235.67 138.00,234.49 138.12,234.06 138.25,232.34 138.38,233.92 138.50,233.31 138.62,233.64 138.75,233.84 138.88,235.27 139.00,232.70 139.12,233.59 139.25,235.26 139.38,234.22 139.50,234.35 139.62,233.99 139.75,234.57 139.88,233.60 140.00,235.00 140.12,233.66 140.25,234.54 140.38,233.93 140.50,234.37 140.62,234.26 140.75,233.70 140.88,234.38 141.00,234.50 141.12,235.06 141.25,234.42 141.38,235.21 141.50,234.42 141.62,232.38 141.75,234.05 141.88,235.41 142.00,235.75 142.12,233.80 142.25,235.19 142.38,233.64 142.50,232.98 142.62,233.65 142.75,234.57 142.88,233.35 143.00,234.32 143.12,232.02 143.25,234.28 143.38,235.71 143.50,233.62 143.62,235.51 143.75,233.52 143.88,234.51 144.00,233.63 144.12,235.53 144.25,234.61 144.38,234.51 144.50,233.74 144.62,235.24 144.75,233.52 144.88,233.65 145.00,235.74 145.12,234.19 145.25,235.70 145.38,234.04 145.50,233.85 145.62,235.00 145.75,233.41 145.88,234.85 146.00,235.16 146.12,233.59 146.25,234.98 146.38,235.40 146.50,235.11 146.62,233.74 146.75,233.46 146.88,234.68 147.00,233.30 147.12,234.47 147.25,232.28 147.38,235.88 147.50,234.00 147.62,233.58 147.75,234.93 147.88,234.85 148.00,233.54 148.12,234.87 148.25,235.00 148.38,233.85 148.50,234.77 148.62,234.35 148.75,235.21 148.88,233.31 149.00,235.02 149.12,234.03 149.25,234.72 149.38,233.70 149.50,234.35 149.62,233.85 149.75,234.71 149.88,234.09 150.00,235.26 150.12,234.50 150.25,234.32 150.38,234.70 150.50,234.60 150.62,233.70 150.75,235.42 150.88,234.55 151.00,233.19 151.12,234.88 151.25,234.63 151.38,234.52 151.50,234.75 151.62,233.68 151.75,234.31 151.88,234.04 152.00,235.02 152.12,233.76 152.25,233.92 152.38,235.68 152.50,234.32 152.62,233.74 152.75,234.35 152.88,231.48 153.00,234.74 153.12,234.50 153.25,234.62 153.38,235.19 153.50,233.10 153.62,234.87 153.75,234.35 153.88,234.02 154.00,234.04 154.12,235.66 154.25,235.42 154.38,232.78 154.50,234.35 154.62,234.27 154.75,235.59 154.88,234.71 155.00,235.47 155.12,233.68 155.25,234.94 155.38,233.65 155.50,234.19 155.62,234.57 155.75,234.28 155.88,232.20 156.00,235.22 156.12,234.73 156.25,235.74 156.38,235.78 156.50,233.65 156.62,233.87 156.75,233.73 156.88,235.65 157.00,234.41 157.12,234.16 157.25,234.53 157.38,235.00 157.50,234.16 157.62,235.60 157.75,234.71 157.88,235.29 158.00,234.49 158.12,234.58 158.25,234.89 158.38,233.81 158.50,233.79 158.62,233.25 158.75,234.00 158.88,234.70 159.00,235.25 159.12,233.95 159.25,235.62 159.38,234.11 159.50,230.93 159.62,235.64 159.75,235.41 159.88,234.28 160.00,233.85 160.12,234.97 160.25,234.43 160.38,233.95 160.50,234.51 160.62,234.79 160.75,233.91 160.88,233.60 161.00,233.99 161.12,234.44 161.25,234.32 161.38,235.43 161.50,235.51 161.62,233.97 161.75,235.10 161.88,234.85 162.00,233.79 162.12,233.93 162.25,233.10 162.38,234.91 162.50,234.40 162.62,233.95 162.75,233.94 162.88,233.70 163.00,234.66 163.12,234.38 163.25,235.49 163.38,235.62 163.50,234.11 163.62,235.05 163.75,233.67 163.88,235.45 164.00,234.18 164.12,234.83 164.25,233.92 164.38,234.09 164.50,235.19 164.62,233.93 164.75,234.10 164.88,233.51 165.00,234.34 165.12,234.98 165.25,233.59 165.38,234.97 165.50,235.32 165.62,234.57 165.75,231.42 165.88,233.69 166.00,234.52 166.12,234.04 166.25,234.11 166.38,234.56 166.50,233.93 166.62,233.63 166.75,234.22 166.88,233.27 167.00,234.35 167.12,233.48 167.25,234.34 167.38,235.38 167.50,234.40 167.62,234.07 167.75,234.89 167.88,234.29 168.00,235.06 168.12,233.10 168.25,235.40 168.38,235.87 168.50,232.40 168.62,233.58 168.75,233.65 168.88,233.99 169.00,234.16 169.12,234.57 169.25,234.34 169.38,234.12 169.50,235.11 169.62,235.41 169.75,234.24 169.88,234.46 170.00,233.53 170.12,234.91 170.25,234.91 170.38,235.45 170.50,235.86 170.62,235.57 170.75,234.48 170.88,233.60 171.00,235.63 171.12,235.51 171.25,233.66 171.38,235.18 171.50,235.79 171.62,233.78 171.75,235.54 171.88,234.86 172.00,234.01 172.12,234.04 172.25,232.79 172.38,234.48 172.50,234.84 172.62,235.71 172.75,234.11 172.88,234.62 173.00,235.30 173.12,235.42 173.25,235.06 173.38,235.21 173.50,235.05 173.62,234.03 173.75,233.73 173.88,234.80 174.00,233.87 174.12,234.70 174.25,233.74 174.38,233.69 174.50,231.06 174.62,233.89 174.75,235.11 174.88,233.58 175.00,234.38 175.12,234.01 175.25,235.22 175.38,234.29 175.50,234.97 175.62,235.43 175.75,235.16 175.88,234.63 176.00,233.41 176.12,234.66 176.25,235.52 176.38,235.85 176.50,235.07 176.62,235.19 176.75,234.37 176.88,235.53 177.00,233.79 177.12,232.09 177.25,234.43 177.38,235.78 177.50,234.21 177.62,234.68 177.75,233.67 177.88,233.55 178.00,234.14 178.12,232.83 178.25,235.63 178.38,234.69 178.50,234.76 178.62,235.03 178.75,234.55 178.88,234.44 179.00,232.96 179.12,235.74 179.25,235.18 179.38,234.06 179.50,235.37 179.62,234.64 179.75,234.84 179.88,233.61 180.00,234.85 180.12,234.74 180.25,235.50 180.38,235.00 180.50,235.38 180.62,234.08 180.75,235.03 180.88,235.23 181.00,234.61 181.12,235.86 181.25,233.84 181.38,234.88 181.50,234.92 181.62,233.54 181.75,235.50 181.88,235.79 182.00,234.74 182.12,234.39 182.25,234.99 182.38,235.37 182.50,234.25 182.62,233.82 182.75,235.07 182.88,234.43 183.00,233.89 183.12,234.67 183.25,234.26 183.38,234.28 183.50,234.69 183.62,235.66 183.75,233.74 183.88,235.40 184.00,233.73 184.12,234.84 184.25,233.95 184.38,234.57 184.50,233.78 184.62,233.75 184.75,234.82 184.88,233.79 185.00,233.59 185.12,234.47 185.25,233.22 185.38,233.31 185.50,233.12 185.62,235.31 185.75,228.82 185.88,233.49 186.00,232.90 186.12,233.75 186.25,233.26 186.38,232.92 186.50,231.18 186.62,233.00 186.75,234.87 186.88,232.56 187.00,233.49 187.12,235.71 187.25,234.95 187.38,230.03 187.50,235.18 187.62,234.11 187.75,229.73 187.88,235.57 188.00,234.89 188.12,232.37 188.25,235.73 188.38,235.07 188.50,232.56 188.62,233.13 188.75,233.96 188.88,232.34 189.00,235.03 189.12,235.87 189.25,232.47 189.38,233.20 189.50,234.46 189.62,232.84 189.75,235.55 189.88,234.54 190.00,233.29 190.12,232.20 190.25,234.50 190.38,229.77 190.50,232.17 190.62,231.30 190.75,233.08 190.88,229.08 191.00,232.74 191.12,231.90 191.25,232.77 191.38,226.57 191.50,233.14 191.62,232.79 191.75,232.47 191.88,231.30 192.00,235.05 192.12,232.84 192.25,235.30 192.38,234.91 192.50,231.42 192.62,233.93 192.75,233.13 192.88,233.02 193.00,233.39 193.12,235.78 193.25,233.01 193.38,225.21 193.50,232.45 193.62,229.81 193.75,229.43 193.88,234.27 194.00,228.53 194.12,233.90 194.25,234.16 194.38,233.06 194.50,230.82 194.62,232.06 194.75,231.48 194.88,229.22 195.00,225.54 195.12,233.64 195.25,232.52 195.38,232.87 195.50,231.63 195.62,234.62 195.75,234.24 195.88,228.69 196.00,230.65 196.12,232.08 196.25,232.33 196.38,235.37 196.50,231.89 196.62,220.39 196.75,231.32 196.88,233.99 197.00,234.13 197.12,232.39 197.25,230.14 197.38,234.22 197.50,234.55 197.62,233.41 197.75,231.20 197.88,230.24 198.00,232.22 198.12,235.71 198.25,234.01 198.38,233.91 198.50,231.24 198.62,228.17 198.75,230.85 198.88,229.56 199.00,230.60 199.12,229.87 199.25,235.59 199.38,235.76 199.50,233.22 199.62,228.03 199.75,232.50 199.88,228.29 200.00,231.27 200.12,230.47 200.25,231.28 200.38,232.38 200.50,233.08 200.62,233.07 200.75,232.24 200.88,229.44 201.00,230.54 201.12,233.88 201.25,232.25 201.38,232.53 201.50,229.98 201.62,228.32 201.75,231.13 201.88,231.37 202.00,231.37 202.12,228.76 202.25,226.90 202.38,230.99 202.50,235.21 202.62,231.73 202.75,228.49 202.88,230.31 203.00,232.50 203.12,222.77 203.25,231.62 203.38,231.28 203.50,224.68 203.62,229.29 203.75,234.11 203.88,228.16 204.00,228.71 204.12,232.62 204.25,232.03 204.38,221.40 204.50,233.36 204.62,225.11 204.75,234.86 204.88,231.53 205.00,233.13 205.12,234.21 205.25,227.95 205.38,230.54 205.50,228.67 205.62,234.47 205.75,222.65 205.88,221.13 206.00,227.50 206.12,231.85 206.25,230.58 206.38,229.62 206.50,227.29 206.62,221.77 206.75,232.62 206.88,228.46 207.00,234.38 207.12,218.89 207.25,230.41 207.38,233.41 207.50,221.47 207.62,234.79 207.75,235.55 207.88,233.25 208.00,230.95 208.12,229.68 208.25,231.28 208.38,230.13 208.50,226.08 208.62,212.40 208.75,228.61 208.88,232.83 209.00,231.03 209.12,227.61 209.25,226.75 209.38,215.63 209.50,229.68 209.62,232.36 209.75,232.37 209.88,227.61 210.00,225.75 210.12,229.91 210.25,231.17 210.38,228.78 210.50,231.38 210.62,227.76 210.75,233.87 210.88,234.83 211.00,227.09 211.12,232.29 211.25,231.99 211.38,225.37 211.50,228.28 211.62,231.12 211.75,225.00 211.88,234.09 212.00,207.66 212.12,222.91 212.25,225.15 212.38,215.30 212.50,233.82 212.62,229.56 212.75,227.73 212.88,235.18 213.00,222.79 213.12,235.87 213.25,234.82 213.38,234.73 213.50,228.07 213.62,229.02 213.75,233.55 213.88,231.47 214.00,225.68 214.12,232.70 214.25,235.18 214.38,229.08 214.50,231.21 214.62,230.11 214.75,233.26 214.88,235.56 215.00,221.56 215.12,227.55 215.25,230.00 215.38,234.31 215.50,226.19 215.62,228.25 215.75,228.81 215.88,229.94 216.00,233.58 216.12,233.53 216.25,223.04 216.38,235.12 216.50,228.00 216.62,225.27 216.75,234.76 216.88,224.37 217.00,228.84 217.12,230.81 217.25,233.72 217.38,233.29 217.50,224.23 217.62,229.40 217.75,230.10 217.88,227.61 218.00,233.90 218.12,233.09 218.25,228.85 218.38,232.24 218.50,232.23 218.62,229.34 218.75,227.91 218.88,228.89 219.00,229.89 219.12,232.47 219.25,230.54 219.38,234.21 219.50,233.50 219.62,231.64 219.75,231.01 219.88,229.20 220.00,230.64 220.12,234.07 220.25,231.44 220.38,233.57 220.50,229.58 220.62,232.77 220.75,234.32 220.88,234.09 221.00,233.56 221.12,233.72 221.25,233.89 221.38,232.63 221.50,232.14 221.62,230.69 221.75,231.39 221.88,232.80 222.00,233.98 222.12,233.30 222.25,232.82 222.38,224.95 222.50,221.58 222.62,232.26 222.75,234.70 222.88,228.91 223.00,232.62 223.12,229.47 223.25,231.42 223.38,233.29 223.50,234.45 223.62,233.55 223.75,231.47 223.88,235.54 224.00,233.20 224.12,231.03 224.25,235.26 224.38,231.12 224.50,232.95 224.62,234.38 224.75,233.67 224.88,230.54 225.00,234.00 225.12,234.07 225.25,233.32 225.38,235.77 225.50,232.69 225.62,233.61 225.75,232.23 225.88,232.31 226.00,232.70 226.12,232.63 226.25,233.57 226.38,234.78 226.50,233.70 226.62,233.42 226.75,235.21 226.88,233.07 227.00,234.27 227.12,234.03 227.25,234.93 227.38,234.87 227.50,232.21 227.62,233.09 227.75,235.67 227.88,232.99 228.00,231.67 228.12,232.85 228.25,232.86 228.38,234.93 228.50,233.35 228.62,234.27 228.75,232.53 228.88,233.33 229.00,234.72 229.12,231.48 229.25,232.70 229.38,235.16 229.50,235.11 229.62,235.85 229.75,233.09 229.88,233.88 230.00,234.89 230.12,233.21 230.25,234.78 230.38,234.86 230.50,235.66 230.62,235.71 230.75,233.81 230.88,234.02 231.00,232.38 231.12,235.25 231.25,234.75 231.38,235.23 231.50,231.19 231.62,232.10 231.75,235.49 231.88,235.69 232.00,235.59 232.12,233.20 232.25,233.17 232.38,233.59 232.50,233.07 232.62,233.76 232.75,233.73 232.88,235.50 233.00,233.00 233.12,233.06 233.25,233.42 233.38,235.04 233.50,235.02 233.62,231.71 233.75,232.44 233.88,233.17 234.00,233.03 234.12,234.23 234.25,232.70 234.38,233.38 234.50,233.69 234.62,233.41 234.75,235.33 234.88,234.46 235.00,232.67 235.12,234.15 235.25,233.57 235.38,232.85 235.50,232.46 235.62,234.95 235.75,232.72 235.88,234.23 236.00,235.04 236.12,235.72 236.25,233.67 236.38,235.23 236.50,233.22 236.62,233.58 236.75,234.42 236.88,231.42 237.00,235.57 237.12,233.85 237.25,234.10 237.38,235.35 237.50,234.46 237.62,232.74 237.75,235.18 237.88,233.02 238.00,234.92 238.12,234.00 238.25,233.89 238.38,235.64 238.50,232.95 238.62,233.93 238.75,235.13 238.88,234.00 239.00,232.31 239.12,232.46 239.25,234.19 239.38,234.34 239.50,233.07 239.62,235.71 239.75,231.80 239.88,234.24 240.00,235.72 240.12,234.59 240.25,234.23 240.38,235.88 240.50,234.86 240.62,232.10 240.75,233.08 240.88,235.68 241.00,232.70 241.12,233.86 241.25,232.29 241.38,233.43 241.50,234.77 241.62,232.74 241.75,234.12 241.88,234.47 242.00,233.72 242.12,233.57 242.25,234.76 242.38,232.89 242.50,232.99 242.62,233.15 242.75,233.34 242.88,235.06 243.00,233.07 243.12,235.26 243.25,235.38 243.38,234.06 243.50,235.27 243.62,235.43 243.75,233.74 243.88,232.34 244.00,235.70 244.12,234.28 244.25,235.57 244.38,233.15 244.50,233.70 244.62,234.11 244.75,235.76 244.88,233.08 245.00,234.05 245.12,232.97 245.25,233.46 245.38,232.59 245.50,234.31 245.62,232.57 245.75,235.26 245.88,234.24 246.00,235.25 246.12,234.54 246.25,232.60 246.38,232.34 246.50,233.79 246.62,233.28 246.75,234.72 246.88,232.61 247.00,233.83 247.12,232.92 247.25,232.85 247.38,234.04 247.50,234.34 247.62,232.46 247.75,232.09 247.88,234.41 248.00,232.05 248.12,234.24 248.25,235.24 248.38,232.58 248.50,234.37 248.62,233.40 248.75,232.64 248.88,235.19 249.00,232.31 249.12,233.85 249.25,235.69 249.38,233.65 249.50,235.83 249.62,230.07 249.75,232.69 249.88,234.51 250.00,232.98 250.12,233.00 250.25,233.34 250.38,233.95 250.50,233.18 250.62,232.78 250.75,232.66 250.88,233.50 251.00,234.49 251.12,234.43 251.25,232.97 251.38,232.48 251.50,233.96 251.62,233.31 251.75,232.39 251.88,235.57 252.00,235.63 252.12,235.36 252.25,232.78 252.38,232.65 252.50,232.27 252.62,230.61 252.75,233.20 252.88,234.50 253.00,234.64 253.12,233.36 253.25,234.40 253.38,233.11 253.50,233.24 253.62,235.46 253.75,232.97 253.88,235.56 254.00,234.74 254.12,232.34 254.25,233.52 254.38,232.78 254.50,232.44 254.62,234.73 254.75,231.18 254.88,234.54 255.00,235.66 255.12,235.51 255.25,235.44 255.38,233.60 255.50,232.95 255.62,232.14 255.75,234.82 255.88,232.95 256.00,233.76 256.12,234.75 256.25,233.51 256.38,234.47 256.50,231.73 256.62,234.74 256.75,235.03 256.88,232.69 257.00,232.71 257.12,235.30 257.25,234.67 257.38,234.04 257.50,235.66 257.62,234.55 257.75,233.09 257.88,233.10 258.00,235.36 258.12,232.59 258.25,234.92 258.38,233.40 258.50,234.83 258.62,230.77 258.75,235.47 258.88,233.97 259.00,233.33 259.12,232.44 259.25,233.66 259.38,232.78 259.50,233.96 259.62,235.09 259.75,234.36 259.88,233.51 260.00,233.96 260.12,232.97 260.25,233.93 260.38,234.50 260.50,234.02 260.62,234.00 260.75,235.86 260.88,234.70 261.00,233.62 261.12,233.30 261.25,234.34 261.38,233.18 261.50,234.06 261.62,231.87 261.75,234.94 261.88,232.99 262.00,232.54 262.12,233.24 262.25,235.09 262.38,233.32 262.50,233.76 262.62,231.47 262.75,235.25 262.88,233.08 263.00,234.02 263.12,232.78 263.25,232.24 263.38,235.87 263.50,233.38 263.62,233.95 263.75,234.19 263.88,235.45 264.00,234.45 264.12,233.85 264.25,234.15 264.38,235.84 264.50,233.99 264.62,233.42 264.75,233.91 264.88,233.19 265.00,234.39 265.12,233.32 265.25,232.99 265.38,235.10 265.50,235.68 265.62,234.55 265.75,233.93 265.88,235.14 266.00,232.41 266.12,234.41 266.25,235.45 266.38,233.49 266.50,233.72 266.62,233.66 266.75,234.39 266.88,234.90 267.00,233.51 267.12,235.39 267.25,233.55 267.38,235.48 267.50,233.78 267.62,232.31 267.75,233.03 267.88,229.99 268.00,233.91 268.12,235.32 268.25,234.55 268.38,233.07 268.50,235.42 268.62,233.48 268.75,234.72 268.88,232.55 269.00,234.12 269.12,233.87 269.25,234.91 269.38,231.88 269.50,232.42 269.62,233.76 269.75,233.19 269.88,233.44 270.00,235.60 270.12,233.76 270.25,233.73 270.38,232.04 270.50,234.81 270.62,234.92 270.75,234.45 270.88,235.79 271.00,235.14 271.12,234.85 271.25,234.03 271.38,231.77 271.50,233.34 271.62,233.85 271.75,233.28 271.88,233.52 272.00,235.73 272.12,233.40 272.25,231.59 272.38,230.77 272.50,232.77 272.62,233.05 272.75,231.09 272.88,232.89 273.00,232.25 273.12,233.75 273.25,233.54 273.38,233.66 273.50,234.91 273.62,234.34 273.75,231.94 273.88,233.68 274.00,232.40 274.12,234.23 274.25,233.76 274.38,233.71 274.50,235.76 274.62,233.62 274.75,234.17 274.88,234.15 275.00,235.22 275.12,233.60 275.25,233.44 275.38,231.12 275.50,232.83 275.62,232.32 275.75,231.32 275.88,233.34 276.00,234.25 276.12,233.20 276.25,235.48 276.38,233.83 276.50,234.78 276.62,232.83 276.75,233.16 276.88,235.68 277.00,232.70 277.12,235.76 277.25,234.11 277.38,235.10 277.50,235.76 277.62,234.15 277.75,234.94 277.88,234.90 278.00,232.89 278.12,235.00 278.25,232.48 278.38,233.68 278.50,234.60 278.62,234.73 278.75,230.37 278.88,235.50 279.00,233.07 279.12,233.97 279.25,234.24 279.38,234.39 279.50,234.37 279.62,235.84 279.75,233.12 279.88,232.03 280.00,235.27 280.12,234.04 280.25,235.25 280.38,233.30 280.50,235.21 280.62,235.27 280.75,234.86 280.88,231.86 281.00,232.91 281.12,234.43 281.25,232.47 281.38,233.93 281.50,233.43 281.62,232.51 281.75,235.76 281.88,233.01 282.00,232.40 282.12,235.59 282.25,231.38 282.38,233.05 282.50,233.74 282.62,232.31 282.75,234.25 282.88,234.50 283.00,234.51 283.12,234.46 283.25,234.53 283.38,234.91 283.50,234.84 283.62,233.53 283.75,233.36 283.88,233.16 284.00,233.58 284.12,232.27 284.25,233.87 284.38,234.76 284.50,235.11 284.62,233.25 284.75,232.32 284.88,235.30 285.00,233.83 285.12,232.45 285.25,233.69 285.38,234.77 285.50,232.96 285.62,234.46 285.75,235.84 285.88,235.61 286.00,232.39 286.12,235.56 286.25,233.04 286.38,235.79 286.50,234.35 286.62,234.50 286.75,234.35 286.88,235.57 287.00,234.43 287.12,233.13 287.25,233.98 287.38,235.37 287.50,232.96 287.62,232.72 287.75,234.23 287.88,234.55 288.00,235.83 288.12,235.64 288.25,234.53 288.38,235.28 288.50,232.36 288.62,232.42 288.75,234.76 288.88,233.19 289.00,235.28 289.12,231.94 289.25,232.40 289.38,233.35 289.50,234.95 289.62,233.94 289.75,233.30 289.88,234.49 290.00,232.29 290.12,230.73 290.25,232.89 290.38,234.21 290.50,232.33 290.62,233.86 290.75,232.68 290.88,235.78 291.00,233.60 291.12,234.04 291.25,234.15 291.38,232.61 291.50,235.55 291.62,231.99 291.75,234.78 291.88,232.40 292.00,232.20 292.12,235.17 292.25,235.43 292.38,235.62 292.50,235.24 292.62,232.51 292.75,232.72 292.88,232.98 293.00,234.30 293.12,234.14 293.25,232.50 293.38,230.91 293.50,235.88 293.62,234.07 293.75,233.78 293.88,235.38 294.00,232.48 294.12,234.00 294.25,232.35 294.38,233.77 294.50,235.19 294.62,234.35 294.75,232.68 294.88,232.33 295.00,234.09 295.12,232.62 295.25,232.56 295.38,232.27 295.50,234.59 295.62,234.17 295.75,235.79 295.88,234.50 296.00,234.61 296.12,235.44 296.25,229.66 296.38,234.57 296.50,235.42 296.62,234.54 296.75,235.26 296.88,233.14 297.00,233.96 297.12,233.82 297.25,234.39 297.38,232.38 297.50,234.52 297.62,234.17 297.75,233.23 297.88,232.51 298.00,232.14 298.12,232.68 298.25,234.16 298.38,232.45 298.50,232.23 298.62,234.70 298.75,232.96 298.88,232.42 299.00,233.19 299.12,233.20 299.25,232.84 299.38,232.69 299.50,233.05 299.62,235.61 299.75,235.14 299.88,235.46 300.00,231.99 300.12,235.66 300.25,233.89 300.38,232.29 300.50,232.13 300.62,235.76 300.75,233.41 300.88,235.38 301.00,232.75 301.12,235.11 301.25,235.52 301.38,234.58 301.50,235.88 301.62,224.89 301.75,235.15 301.88,233.27 302.00,232.44 302.12,232.49 302.25,234.18 302.38,231.53 302.50,233.59 302.62,232.45 302.75,232.86 302.88,235.86 303.00,234.81 303.12,233.27 303.25,234.40 303.38,232.77 303.50,232.57 303.62,231.19 303.75,232.40 303.88,233.72 304.00,232.77 304.12,234.19 304.25,234.41 304.38,233.33 304.50,234.20 304.62,234.77 304.75,234.23 304.88,234.30 305.00,233.94 305.12,233.15 305.25,233.04 305.38,232.99 305.50,232.82 305.62,233.76 305.75,234.55 305.88,232.51 306.00,235.24 306.12,233.34 306.25,232.84 306.38,233.03 306.50,233.36 306.62,233.46 306.75,234.66 306.88,235.81 307.00,232.42 307.12,232.63 307.25,234.06 307.38,233.49 307.50,234.55 307.62,234.23 307.75,233.75 307.88,233.35 308.00,235.05 308.12,235.56 308.25,232.39 308.38,232.80 308.50,235.17 308.62,232.90 308.75,232.90 308.88,235.24 309.00,232.96 309.12,234.50 309.25,234.68 309.38,233.74 309.50,233.30 309.62,233.59 309.75,234.03 309.88,234.63 310.00,233.00 310.12,234.74 310.25,234.93 310.38,233.30 310.50,232.80 310.62,232.58 310.75,233.53 310.88,233.02 311.00,234.66 311.12,233.62 311.25,234.98 311.38,234.98 311.50,234.38 311.62,233.03 311.75,233.22 311.88,230.60 312.00,235.49 312.12,233.68 312.25,235.76 312.38,232.57 312.50,235.56 312.62,233.92 312.75,233.44 312.88,235.15 313.00,232.07 313.12,232.32 313.25,235.03 313.38,235.39 313.50,233.53 313.62,234.02 313.75,233.69 313.88,233.64 314.00,232.19 314.12,233.10 314.25,234.76 314.38,232.13 314.50,234.03 314.62,231.99 314.75,234.16 314.88,235.86 315.00,232.55 315.12,234.89 315.25,232.90 315.38,233.67 315.50,233.18 315.62,233.20 315.75,232.60 315.88,232.86 316.00,233.55 316.12,232.37 316.25,234.10 316.38,233.55 316.50,234.39 316.62,234.22 316.75,234.19 316.88,233.81 317.00,234.67 317.12,234.76 317.25,235.20 317.38,230.10 317.50,235.56 317.62,234.99 317.75,235.28 317.88,232.95 318.00,232.73 318.12,235.53 318.25,232.90 318.38,234.30 318.50,230.92 318.62,234.57 318.75,234.63 318.88,233.86 319.00,234.71 319.12,232.34 319.25,235.41 319.38,231.61 319.50,232.18 319.62,231.77 319.75,235.13 319.88,232.65 320.00,232.89 320.12,233.86 320.25,235.20 320.38,235.27 320.50,232.69 320.62,232.36 320.75,234.29 320.88,233.20 321.00,233.35 321.12,233.50 321.25,234.15 321.38,233.88 321.50,234.19 321.62,233.18 321.75,234.37 321.88,234.06 322.00,235.23 322.12,231.52 322.25,235.61 322.38,233.28 322.50,233.49 322.62,234.64 322.75,231.85 322.88,235.76 323.00,234.90 323.12,234.59 323.25,233.56 323.38,233.75 323.50,233.30 323.62,230.89 323.75,235.42 323.88,233.85 324.00,234.44 324.12,233.38 324.25,233.98 324.38,234.59 324.50,233.30" stroke="#d95319" stroke-width="0.8"/>
</g>
<g font-size="10"><text x="25" y="240.20" text-anchor="end">0</text><text x="25" y="207.06" text-anchor="end">5</text><text x="25" y="173.91" text-anchor="end">10</text><text x="25" y="140.77" text-anchor="end">15</text><text x="25" y="107.63" text-anchor="end">20</text><text x="25" y="74.49" text-anchor="end">25</text><text x="25" y="41.34" text-anchor="end">30</text><text x="25" y="8.20" text-anchor="end">35</text><text x="29.50" y="250.6" text-anchor="middle">0</text><text x="83.14" y="250.6" text-anchor="middle">2</text><text x="136.77" y="250.6" text-anchor="middle">4</text><text x="190.41" y="250.6" text-anchor="middle">6</text><text x="244.05" y="250.6" text-anchor="middle">8</text><text x="297.68" y="250.6" text-anchor="middle">10</text></g>
<text x="177" y="265.8" font-size="11" text-anchor="middle">Time [ms]</text>
<text transform="translate(9.3,120) rotate(-90)" font-size="11" text-anchor="middle">Intensity [a.u.]</text>
<rect x="228" y="12.2" width="85.3" height="25.6" fill="#fff" stroke="#262626" stroke-opacity="0.55" stroke-width="1"/>
<line x1="233.6" y1="18.1" x2="261" y2="18.1" stroke="#d95319" stroke-width="0.8" opacity="0.65"/>
<line x1="233.6" y1="30" x2="261" y2="30" stroke="#0072bd" stroke-width="0.8" opacity="0.65"/>
<g font-size="8.3" class="lg">
<text x="263.6" y="21.4">2.72-<tspan dx="0.8" font-style="italic" font-family="Liberation Serif">μ</tspan>m line</text>
<text x="263.6" y="33.9">2.84-<tspan dx="0.8" font-style="italic" font-family="Liberation Serif">μ</tspan>m line</text>
</g>
</svg>
</body></html>
